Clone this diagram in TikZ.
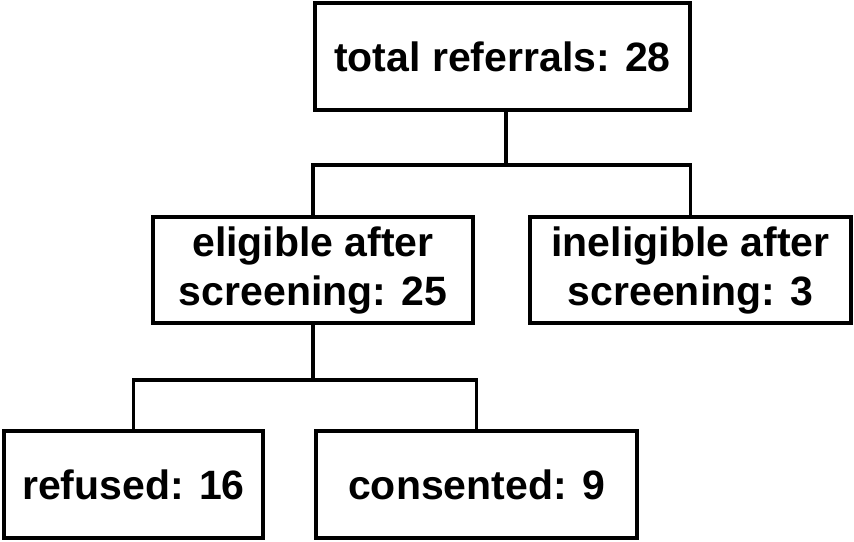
\documentclass[tikz,border=0pt]{standalone}
\usepackage{fontspec}
\setmainfont{Liberation Sans}
\begin{document}
\begin{tikzpicture}[x=1pt,y=-1pt,
  box/.style={draw, line width=3.3pt, inner sep=0pt, align=center,
    font=\bfseries\fontsize{41}{49}\selectfont},
  link/.style={line width=3.5pt}]
\useasboundingbox (0,0) rectangle (854,541);
\node[box, minimum width=375pt, minimum height=107pt] (top) at (502.5,56.5) {total referrals: 28};
\node[box, minimum width=320pt, minimum height=106pt] (elig) at (313,270) {eligible after\\screening: 25};
\node[box, minimum width=321pt, minimum height=106pt] (inel) at (690.5,270) {ineligible after\\screening: 3};
\node[box, minimum width=259pt, minimum height=107pt] (ref) at (133.5,484.5) {refused: 16};
\node[box, minimum width=321pt, minimum height=107pt] (cons) at (476.5,484.5) {consented: 9};
\coordinate (j1) at (506,165);
\coordinate (j2) at (313,380);
\draw[link] (top.south -| j1) -- (j1);
\draw[link] (elig.north) |- (j1) -| (inel.north);
\draw[link] (elig.south) -- (j2);
\draw[link] (ref.north) |- (j2) -| (cons.north);
\end{tikzpicture}
\end{document}
